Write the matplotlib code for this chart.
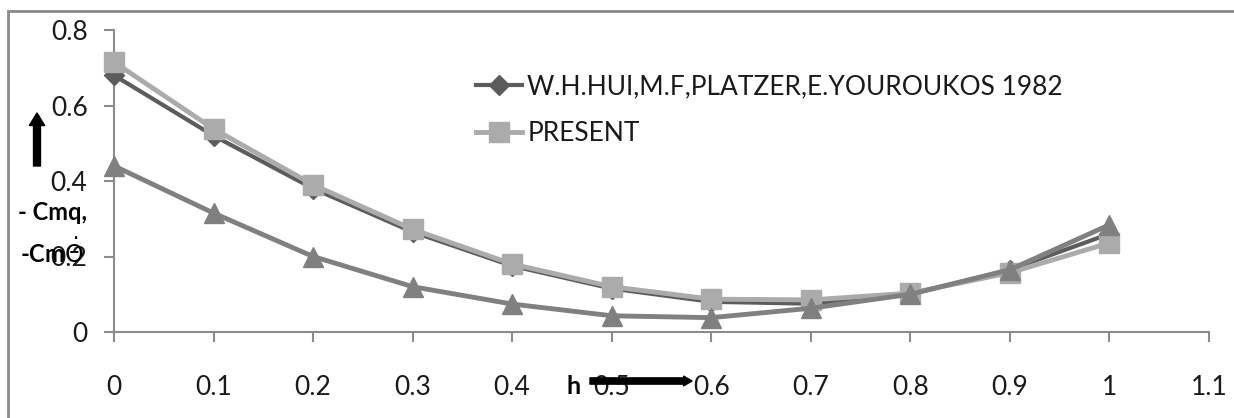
import numpy as np
import matplotlib.pyplot as plt
from matplotlib.patches import Rectangle
from matplotlib.ticker import FuncFormatter

# --------------------------------
# Data
# --------------------------------
h = [0.0, 0.1, 0.2, 0.3, 0.4, 0.5, 0.6, 0.7, 0.8, 0.9, 1.0]
hui_1982 = [0.68, 0.52, 0.38, 0.265, 0.175, 0.115, 0.08, 0.075, 0.10, 0.165, 0.26]
present = [0.715, 0.538, 0.39, 0.272, 0.18, 0.12, 0.087, 0.085, 0.103, 0.157, 0.236]
third = [0.44, 0.315, 0.20, 0.12, 0.074, 0.043, 0.038, 0.063, 0.10, 0.165, 0.284]

labels = ["W.H.HUI,M.F,PLATZER,E.YOUROUKOS 1982", "PRESENT"]
x_ticks = [0, 0.1, 0.2, 0.3, 0.4, 0.5, 0.6, 0.7, 0.8, 0.9, 1.0, 1.1]
y_ticks = [0, 0.2, 0.4, 0.6, 0.8]

plt.rcParams['font.family'] = ['Lato', 'DejaVu Sans']
plt.rcParams['mathtext.fontset'] = 'dejavusans'

W, H = 1234, 418
fig = plt.figure(figsize=(W / 100, H / 100), dpi=100)
ax = fig.add_axes([114 / W, 1 - 332 / H, (1209 - 114) / W, (332 - 30) / H])

# --------------------------------
# Series
# --------------------------------
ax.plot(h, hui_1982, color='#5c5c5c', lw=3.0, marker='D', ms=10,
        solid_joinstyle='round', label=labels[0], zorder=3)
ax.plot(h, present, color='#ababab', lw=3.5, marker='s', ms=14,
        solid_joinstyle='round', label=labels[1], zorder=4)
ax.plot(h, third, color='#808080', lw=3.5, marker='^', ms=15,
        solid_joinstyle='round', label='_nolegend_', zorder=5)

# --------------------------------
# Axes styling
# --------------------------------
ax.set_xlim(0, 1.1)
ax.set_ylim(0, 0.8)
ax.set_xticks(x_ticks)
ax.set_yticks(y_ticks)
fmt = FuncFormatter(lambda v, p: f"{v:g}")
ax.xaxis.set_major_formatter(fmt)
ax.yaxis.set_major_formatter(fmt)
for s in ['top', 'right']:
    ax.spines[s].set_visible(False)
for s in ['left', 'bottom']:
    ax.spines[s].set_color('#8c8c8c')
    ax.spines[s].set_linewidth(1.5)
    ax.spines[s].set_clip_on(False)
ax.tick_params(axis='x', length=7, width=1.5, color='#8c8c8c', pad=24,
               labelsize=19, labelcolor='#1a1a1a')
ax.tick_params(axis='y', length=7, width=1.5, color='#8c8c8c', pad=12,
               labelsize=19, labelcolor='#1a1a1a')
for line in ax.get_lines():
    line.set_clip_on(False)

leg = ax.legend(loc='upper left', bbox_to_anchor=(476 / W, 1 - 74 / H),
                bbox_transform=fig.transFigure, frameon=False, fontsize=19,
                handlelength=1.75, handletextpad=0.2, labelspacing=0.85,
                borderpad=0, borderaxespad=0)
for t in leg.get_texts():
    t.set_color('#1a1a1a')

# --------------------------------
# Axis annotations (labels and arrows)
# --------------------------------
fig.text(18 / W, 1 - 212 / H, "- Cmq,", fontsize=17, fontweight='bold',
         va='center', ha='left')
fig.text(20 / W, 1 - 252 / H, r"-Cm$\dot{\Theta}$", fontsize=17,
         fontweight='bold', va='center', ha='left')
fig.text(566 / W, 1 - 386 / H, "h", fontsize=18, fontweight='bold',
         va='center', ha='left')

ax.annotate('', xy=(37 / W, 1 - 113 / H), xytext=(37 / W, 1 - 166 / H),
            xycoords='figure fraction', textcoords='figure fraction',
            arrowprops=dict(arrowstyle='simple,head_width=1.1,head_length=0.9,tail_width=0.5',
                            color='black', shrinkA=0, shrinkB=0))
ax.annotate('', xy=(692 / W, 1 - 381 / H), xytext=(590 / W, 1 - 381 / H),
            xycoords='figure fraction', textcoords='figure fraction',
            arrowprops=dict(arrowstyle='simple,head_width=0.7,head_length=0.6,tail_width=0.45',
                            color='black', shrinkA=0, shrinkB=0))

# Chart frame (only left/top edges fall inside the picture)
fig.patches.append(Rectangle((8 / W, -0.2), 1.2, 1.2 - 11 / H,
                             transform=fig.transFigure, fill=False,
                             edgecolor='#8a8a8a', lw=2.0, clip_on=False))

fig.savefig("out.png", dpi=100)
